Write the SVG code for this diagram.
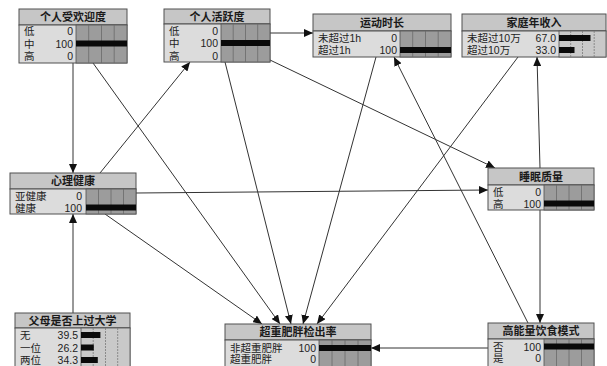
<svg xmlns="http://www.w3.org/2000/svg" width="607" height="366" viewBox="0 0 607 366">
<defs>
<marker id="ah" markerWidth="9" markerHeight="8" refX="9" refY="4" orient="auto" markerUnits="userSpaceOnUse">
<path d="M0,0 L9,4 L0,8 Z" fill="#111"/>
</marker>
<style>
.tb{fill:#c6c6c6;stroke:#505050;stroke-width:1}
.bd{fill:#dcdcdc;stroke:#505050;stroke-width:1}
.be{fill:#9c9c9c;stroke:#505050;stroke-width:0.8}
.bn{fill:#c9c9c9;stroke:#505050;stroke-width:0.8}
.g{stroke:#6a6a6a;stroke-width:0.8}
.gd{stroke:#7a7a7a;stroke-width:0.8;stroke-dasharray:2,1}
.bar{fill:#0a0a0a}
.t{font-family:"Liberation Sans","Noto Sans CJK SC",sans-serif;font-size:11px;font-weight:bold;fill:#1a1a1a;text-anchor:middle}
.l{font-family:"Liberation Sans","Noto Sans CJK SC",sans-serif;font-size:10.5px;fill:#222}
.v{font-family:"Liberation Sans","Noto Sans CJK SC",sans-serif;font-size:10.5px;fill:#222;text-anchor:end}
.c{stroke:#333;stroke-width:1;fill:none;marker-end:url(#ah)}
</style>
</defs>
<rect width="607" height="366" fill="#ffffff"/>

<g id="connectors">
<path class="c" d="M73,63 L73,173"/>
<path class="c" d="M73,313 L73,214"/>
<path class="c" d="M100,173 L190,62"/>
<path class="c" d="M270,33 L313,33"/>
<path class="c" d="M270,60 L495,168"/>
<path class="c" d="M136,193 L488,190"/>
<path class="c" d="M540,168 L537,57"/>
<path class="c" d="M540,210 L540,323"/>
<path class="c" d="M528,323 L394,57"/>
<path class="c" d="M488,348 L371,348"/>
<path class="c" d="M105,214 L262,324"/>
<path class="c" d="M93,63 L280,324"/>
<path class="c" d="M225,62 L291,324"/>
<path class="c" d="M376,57 L303,324"/>
<path class="c" d="M518,57 L317,324"/>
</g>

<g id="node-popularity">
<rect class="tb" x="19" y="9" width="108" height="16"/>
<rect class="bd" x="19" y="25" width="108" height="38"/>
<rect class="be" x="76" y="25" width="51" height="38"/>
<line class="g" x1="88.7" y1="25" x2="88.7" y2="63"/><line class="g" x1="101.5" y1="25" x2="101.5" y2="63"/><line class="g" x1="114.2" y1="25" x2="114.2" y2="63"/>
<rect class="bar" x="76" y="40.5" width="51" height="6"/>
<text class="t" x="73" y="21">个人受欢迎度</text>
<text class="l" x="24" y="35">低</text><text class="v" x="73" y="35">0</text>
<text class="l" x="24" y="47.5">中</text><text class="v" x="73" y="47.5">100</text>
<text class="l" x="24" y="60">高</text><text class="v" x="73" y="60">0</text>
</g>

<g id="node-activity">
<rect class="tb" x="164" y="9" width="106" height="15"/>
<rect class="bd" x="164" y="24" width="106" height="38"/>
<rect class="be" x="221" y="24" width="49" height="38"/>
<line class="g" x1="233.2" y1="24" x2="233.2" y2="62"/><line class="g" x1="245.5" y1="24" x2="245.5" y2="62"/><line class="g" x1="257.7" y1="24" x2="257.7" y2="62"/>
<rect class="bar" x="221" y="40" width="49" height="6"/>
<text class="t" x="217" y="20.5">个人活跃度</text>
<text class="l" x="169" y="34.5">低</text><text class="v" x="218" y="34.5">0</text>
<text class="l" x="169" y="47">中</text><text class="v" x="218" y="47">100</text>
<text class="l" x="169" y="59.5">高</text><text class="v" x="218" y="59.5">0</text>
</g>

<g id="node-exercise">
<rect class="tb" x="313" y="14" width="138" height="17"/>
<rect class="bd" x="313" y="31" width="138" height="26"/>
<rect class="be" x="400" y="31" width="51" height="26"/>
<line class="g" x1="412.7" y1="31" x2="412.7" y2="57"/><line class="g" x1="425.5" y1="31" x2="425.5" y2="57"/><line class="g" x1="438.2" y1="31" x2="438.2" y2="57"/>
<rect class="bar" x="400" y="47" width="51" height="6"/>
<text class="t" x="382" y="26.5">运动时长</text>
<text class="l" x="318" y="42">未超过1h</text><text class="v" x="397" y="42">0</text>
<text class="l" x="318" y="54">超过1h</text><text class="v" x="397" y="54">100</text>
</g>

<g id="node-income">
<rect class="tb" x="462" y="14" width="144" height="17"/>
<rect class="bd" x="462" y="31" width="144" height="26"/>
<rect class="bn" x="559" y="31" width="47" height="26"/>
<line class="gd" x1="570.7" y1="31" x2="570.7" y2="57"/><line class="gd" x1="582.5" y1="31" x2="582.5" y2="57"/><line class="gd" x1="594.2" y1="31" x2="594.2" y2="57"/>
<rect class="bar" x="559" y="35" width="31.5" height="6"/>
<rect class="bar" x="559" y="47" width="15.5" height="6"/>
<text class="t" x="534" y="26.5">家庭年收入</text>
<text class="l" x="467" y="42">未超过10万</text><text class="v" x="556" y="42">67.0</text>
<text class="l" x="467" y="54">超过10万</text><text class="v" x="556" y="54">33.0</text>
</g>

<g id="node-mental">
<rect class="tb" x="10" y="173" width="126" height="16"/>
<rect class="bd" x="10" y="189" width="126" height="25"/>
<rect class="be" x="86" y="189" width="50" height="25"/>
<line class="g" x1="98.5" y1="189" x2="98.5" y2="214"/><line class="g" x1="111" y1="189" x2="111" y2="214"/><line class="g" x1="123.5" y1="189" x2="123.5" y2="214"/>
<rect class="bar" x="86" y="204.5" width="50" height="6"/>
<text class="t" x="73" y="185">心理健康</text>
<text class="l" x="15" y="200">亚健康</text><text class="v" x="82" y="200">0</text>
<text class="l" x="15" y="211.5">健康</text><text class="v" x="82" y="211.5">100</text>
</g>

<g id="node-sleep">
<rect class="tb" x="488" y="168" width="106" height="17"/>
<rect class="bd" x="488" y="185" width="106" height="25"/>
<rect class="be" x="544" y="185" width="50" height="25"/>
<line class="g" x1="556.5" y1="185" x2="556.5" y2="210"/><line class="g" x1="569" y1="185" x2="569" y2="210"/><line class="g" x1="581.5" y1="185" x2="581.5" y2="210"/>
<rect class="bar" x="544" y="200.5" width="50" height="6"/>
<text class="t" x="541" y="180.5">睡眠质量</text>
<text class="l" x="493" y="196">低</text><text class="v" x="541" y="196">0</text>
<text class="l" x="493" y="207.5">高</text><text class="v" x="541" y="207.5">100</text>
</g>

<g id="node-parents">
<rect class="tb" x="15" y="313" width="115" height="15"/>
<rect class="bd" x="15" y="328" width="115" height="40"/>
<rect class="bn" x="81" y="328" width="49" height="40"/>
<line class="gd" x1="93.2" y1="328" x2="93.2" y2="368"/><line class="gd" x1="105.5" y1="328" x2="105.5" y2="368"/><line class="gd" x1="117.7" y1="328" x2="117.7" y2="368"/>
<rect class="bar" x="81" y="332" width="19.4" height="6"/>
<rect class="bar" x="81" y="344.5" width="12.8" height="6"/>
<rect class="bar" x="81" y="357" width="16.8" height="6"/>
<text class="t" x="72.5" y="324.5">父母是否上过大学</text>
<text class="l" x="20" y="339">无</text><text class="v" x="78" y="339">39.5</text>
<text class="l" x="20" y="351.5">一位</text><text class="v" x="78" y="351.5">26.2</text>
<text class="l" x="20" y="364">两位</text><text class="v" x="78" y="364">34.3</text>
</g>

<g id="node-obesity">
<rect class="tb" x="225" y="324" width="146" height="16"/>
<rect class="bd" x="225" y="340" width="146" height="28"/>
<rect class="be" x="319" y="340" width="52" height="28"/>
<line class="g" x1="332" y1="340" x2="332" y2="368"/><line class="g" x1="345" y1="340" x2="345" y2="368"/><line class="g" x1="358" y1="340" x2="358" y2="368"/>
<rect class="bar" x="319" y="345" width="52" height="6"/>
<text class="t" x="298" y="336">超重肥胖检出率</text>
<text class="l" x="230" y="351.5">非超重肥胖</text><text class="v" x="316" y="351.5">100</text>
<text class="l" x="230" y="363">超重肥胖</text><text class="v" x="316" y="363">0</text>
</g>

<g id="node-diet">
<rect class="tb" x="488" y="323" width="106" height="16"/>
<rect class="bd" x="488" y="339" width="106" height="29"/>
<rect class="be" x="544" y="339" width="50" height="29"/>
<line class="g" x1="556.5" y1="339" x2="556.5" y2="368"/><line class="g" x1="569" y1="339" x2="569" y2="368"/><line class="g" x1="581.5" y1="339" x2="581.5" y2="368"/>
<rect class="bar" x="544" y="343.5" width="50" height="6"/>
<text class="t" x="541" y="335">高能量饮食模式</text>
<text class="l" x="493" y="350.5">否</text><text class="v" x="541" y="350.5">100</text>
<text class="l" x="493" y="362">是</text><text class="v" x="541" y="362">0</text>
</g>
</svg>
